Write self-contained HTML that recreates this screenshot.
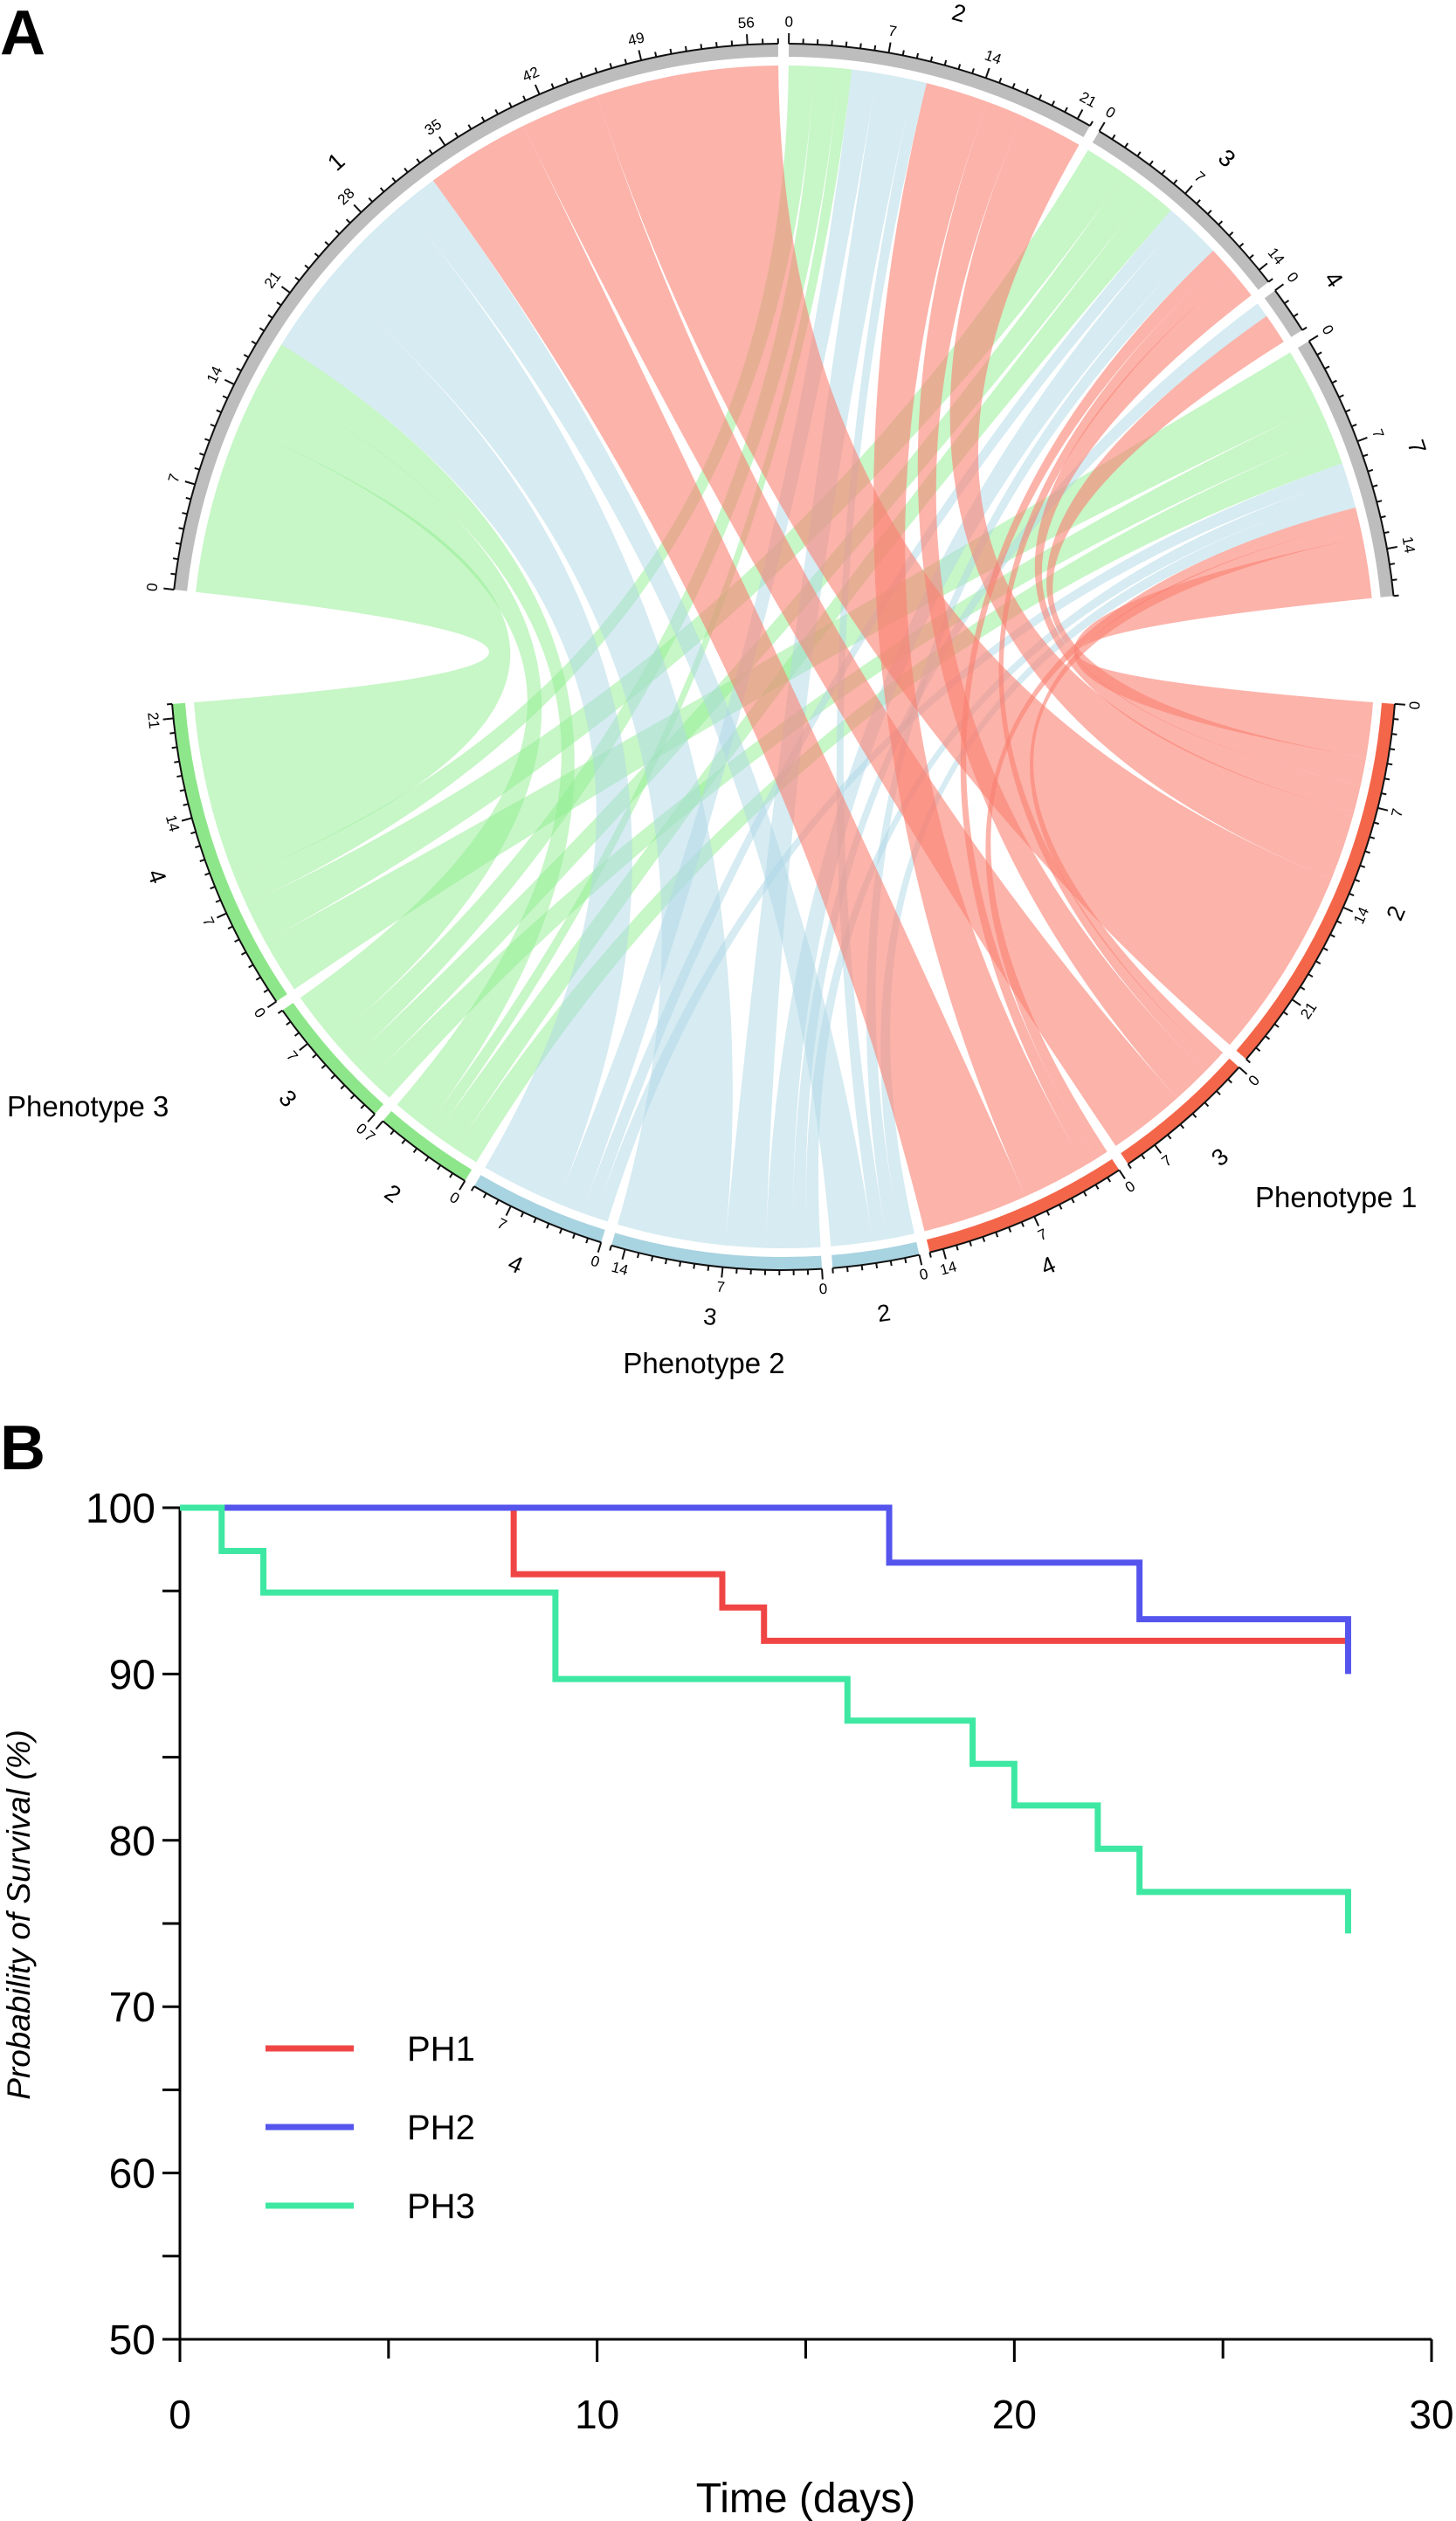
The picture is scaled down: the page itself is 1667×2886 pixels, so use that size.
<!DOCTYPE html>
<html><head><meta charset="utf-8"><style>
html,body{margin:0;padding:0;background:#fff;}
svg{display:block;font-family:"Liberation Sans",sans-serif;}
</style></head><body>
<svg id="fig" width="1667" height="2886" viewBox="0 0 1667 2886" xmlns="http://www.w3.org/2000/svg">
<text x="0" y="62" font-size="72" font-weight="bold">A</text>
<text x="0" y="1682" font-size="72" font-weight="bold">B</text>
<g id="chord"></g>
<g id="km"></g>
</svg>
<script>
// ---------- Chord data ----------
const topSegments = ['1','2','3','4','7'];
const bottomSegments = ['2','3','4','2','3','4','2','3','4'];
const bottomGroups = ['PH1','PH1','PH1','PH2','PH2','PH2','PH3','PH3','PH3'];
// flows[top][bottom]
const flowsSeg1 = [14,6,8,3,8,6,3,4,13];
const flowsSeg2 = [5,3,5,1,3,2,1,2,2];
const flowsSeg3 = [2,1,1,1,2,1,2,2,3];
const flowsSeg4 = [2,0,0,0,1,0,0,0,0];
const flowsSeg5 = [4,1,1,1,1,1,2,2,4];
const flows = [flowsSeg1,flowsSeg2,flowsSeg3,flowsSeg4,flowsSeg5];
const topTickMax = [58,22,15,3,17];
const bottomTickMax = [26,9,15,6,15,10,7,10,22];

// layout (style)
const CX=897, CY=752, R_RING_OUT=702, R_RING_IN=687, R_CHORD=677;
const topSpan=[[276.3,359.5],[0.5,30.0],[31.0,52.3],[53.3,57.8],[59.0,84.3]];
const botSpan=[[94.4,131.0],[132.0,145.8],[146.8,166.2],[167.2,175.4],[176.4,196.3],[197.3,210.3],[211.3,220.8],[221.8,234.8],[235.8,265.6]];
const groupColor={PH1:'#f4664a',PH2:'#a8d3e0',PH3:'#8ee68a'};
const chordFill={PH1:'#fa8072',PH2:'#add8e6',PH3:'#90ee90'};
const chordOp={PH1:0.6,PH2:0.5,PH3:0.5};
const NS='http://www.w3.org/2000/svg';
const chordG=document.getElementById('chord');
function rad(d){return d*Math.PI/180;}
function pt(a,r){return [CX+r*Math.sin(rad(a)),CY-r*Math.cos(rad(a))];}
function norm(a1,a0){return a1<a0?a1+360:a1;}
function arcPath(a0,a1,r){const e=norm(a1,a0);const p=pt(e,r);const large=(e-a0)>180?1:0;return `A ${r} ${r} 0 ${large} 1 ${p[0].toFixed(2)} ${p[1].toFixed(2)}`;}
function mk(tag,attrs,parent){const el=document.createElementNS(NS,tag);for(const k in attrs)el.setAttribute(k,attrs[k]);(parent||chordG).appendChild(el);return el;}
function rot(a){a=((a%360)+360)%360;return (a>90&&a<270)?a+180:a;}

const srcPos={};
topSegments.forEach((s,i)=>{
  const tot=flows[i].reduce((a,b)=>a+b,0);
  let a=topSpan[i][0];const span=norm(topSpan[i][1],topSpan[i][0])-a;
  for(let j=bottomSegments.length-1;j>=0;j--){const w=flows[i][j]/tot*span;srcPos[i+'_'+j]=[a,a+w];a+=w;}
});
const tgtPos={};
bottomSegments.forEach((s,j)=>{
  let tot=0;for(let i=0;i<flows.length;i++)tot+=flows[i][j];
  let a=botSpan[j][0];const span=botSpan[j][1]-a;
  for(let i=flows.length-1;i>=0;i--){const w=flows[i][j]/tot*span;tgtPos[i+'_'+j]=[a,a+w];a+=w;}
});
['PH3','PH2','PH1'].forEach(g=>{
  for(let i=0;i<flows.length;i++)for(let j=0;j<bottomSegments.length;j++){
    if(bottomGroups[j]!==g||flows[i][j]===0)continue;
    const s=srcPos[i+'_'+j],t=tgtPos[i+'_'+j];
    const s0=pt(s[0],R_CHORD),t0=pt(t[0],R_CHORD);
    const d=`M ${s0[0]} ${s0[1]} ${arcPath(s[0],s[1],R_CHORD)} Q ${CX} ${CY} ${t0[0]} ${t0[1]} ${arcPath(t[0],t[1],R_CHORD)} Q ${CX} ${CY} ${s0[0]} ${s0[1]} Z`;
    const p=mk('path',{d:d,fill:chordFill[g],'fill-opacity':chordOp[g],stroke:'none'});
    
    
  }
});
function ringAndTicks(span,color,max,label,name){
  const a0=span[0],a1=norm(span[1],span[0]);
  const o0=pt(a0,R_RING_OUT),i1=pt(a1,R_RING_IN);
  const d=`M ${o0[0]} ${o0[1]} ${arcPath(a0,a1,R_RING_OUT)} L ${i1[0]} ${i1[1]} A ${R_RING_IN} ${R_RING_IN} 0 ${(a1-a0)>180?1:0} 0 ${pt(a0,R_RING_IN)[0]} ${pt(a0,R_RING_IN)[1]} Z`;
  const r=mk('path',{d:d,fill:color});
  
  
  const ax=mk('path',{d:`M ${o0[0]} ${o0[1]} ${arcPath(a0,a1,R_RING_OUT)}`,fill:'none',stroke:'#111','stroke-width':2});
  
  
  const per=(a1-a0)/max;
  for(let u=0;u<=max;u++){
    const a=a0+u*per;const major=u%7===0;
    const p1=pt(a,R_RING_OUT),p2=pt(a,R_RING_OUT+(major?12:6));
    mk('line',{x1:p1[0],y1:p1[1],x2:p2[0],y2:p2[1],stroke:'#111','stroke-width':2});
    if(major){const p=pt(a,R_RING_OUT+24);
      const t=mk('text',{x:0,y:0,'font-size':17,'text-anchor':'middle','dominant-baseline':'middle',transform:`translate(${p[0]},${p[1]}) rotate(${rot(a)})`});
      t.textContent=u;
      
      }
  }
  const mid=(a0+a1)/2;const lp=pt(mid,R_RING_OUT+60);
  const lt=mk('text',{x:0,y:0,'font-size':27,'text-anchor':'middle','dominant-baseline':'middle',transform:`translate(${lp[0]},${lp[1]}) rotate(${rot(mid)})`});
  lt.textContent=label;
  
  
}
topSegments.forEach((s,i)=>ringAndTicks(topSpan[i],'#bdbdbd',topTickMax[i],s,'top-segment-'+s));
bottomSegments.forEach((s,j)=>ringAndTicks(botSpan[j],groupColor[bottomGroups[j]],bottomTickMax[j],s,bottomGroups[j].toLowerCase()+'-segment-'+s));
[['Phenotype 3',8,1278,'start','phenotype-3-label'],['Phenotype 1',1437,1382,'start','phenotype-1-label'],['Phenotype 2',806,1572,'middle','phenotype-2-label']].forEach(l=>{
  const t=mk('text',{x:l[1],y:l[2],'font-size':33,'text-anchor':l[3]});t.textContent=l[0];
  
  
});

// ---------- KM data ----------
const ph1Times=[0,8,13,14,28];
const ph1Surv=[100,96,94,92,92];
const ph2Times=[0,17,23,28];
const ph2Surv=[100,96.7,93.3,90];
const ph3Times=[0,1,2,9,16,19,20,22,23,28];
const ph3Surv=[100,97.4,94.9,89.7,87.2,84.6,82.1,79.5,76.9,74.4];
const xTicks=[0,10,20,30];
const yTicks=[50,60,70,80,90,100];
const seriesNames=['PH1','PH2','PH3'];
const km=document.getElementById('km');
const X0=206,X1=1639,Y50=2678,Y100=1726;
function xs(t){return X0+(t-0)*(X1-X0)/30;}
function ys(v){return Y50-(v-50)*(Y50-Y100)/50;}
function K(tag,attrs){return mk(tag,attrs,km);}
let e;
e=K('line',{x1:X0,y1:ys(100),x2:X0,y2:ys(50),stroke:'#000','stroke-width':3});

e=K('line',{x1:X0,y1:ys(50),x2:X1,y2:ys(50),stroke:'#000','stroke-width':3});

yTicks.forEach(v=>{K('line',{x1:X0-20,y1:ys(v),x2:X0,y2:ys(v),stroke:'#000','stroke-width':3});
  if(v<100)K('line',{x1:X0-20,y1:ys(v+5),x2:X0,y2:ys(v+5),stroke:'#000','stroke-width':3});
  const t=K('text',{x:X0-28,y:ys(v)+17,'font-size':48,'text-anchor':'end'});t.textContent=v;
  });
xTicks.forEach(v=>{K('line',{x1:xs(v),y1:ys(50),x2:xs(v),y2:ys(50)+26,stroke:'#000','stroke-width':3});
  if(v<30)K('line',{x1:xs(v+5),y1:ys(50),x2:xs(v+5),y2:ys(50)+22,stroke:'#000','stroke-width':3});
  const t=K('text',{x:xs(v),y:2780,'font-size':46,'text-anchor':'middle'});t.textContent=v;
  });
e=K('text',{x:xs(15),y:2876,'font-size':48,'text-anchor':'middle'});e.textContent='Time (days)';

e=K('text',{x:0,y:0,'font-size':37,'font-style':'italic','text-anchor':'middle',transform:'translate(34,2192) rotate(-90)'});e.textContent='Probability of Survival (%)';

const colors=['#f04545','#5555ee','#3ee8a2'];
[[ph1Times,ph1Surv],[ph2Times,ph2Surv],[ph3Times,ph3Surv]].forEach((s,k)=>{
  const T=s[0],S=s[1];let d=`M ${xs(T[0])} ${ys(S[0])}`;
  for(let i=1;i<T.length;i++){d+=` H ${xs(T[i])} V ${ys(S[i])}`;}
  const p=K('path',{d:d,fill:'none',stroke:colors[k],'stroke-width':7});
  
  
  const ly=2345+k*90;
  const l=K('line',{x1:304,y1:ly,x2:405,y2:ly,stroke:colors[k],'stroke-width':7});
  
  
  const t=K('text',{x:466,y:ly+14,'font-size':40});t.textContent=seriesNames[k];
  
  
});
</script>
</body></html>
